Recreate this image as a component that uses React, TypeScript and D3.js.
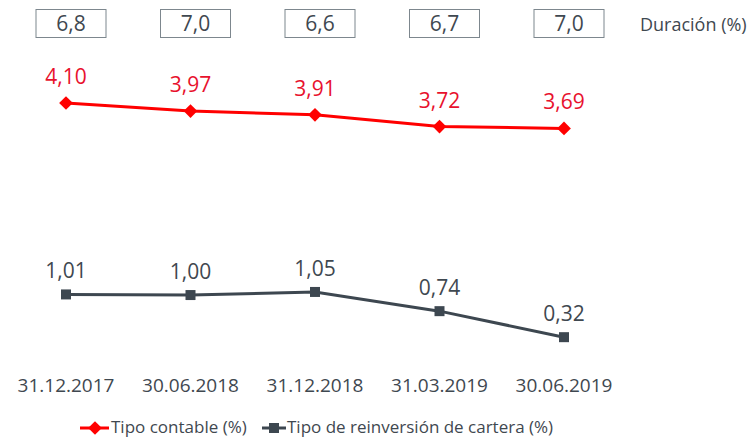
import React from "react";
import * as d3 from "d3";

const categories = ["31.12.2017", "30.06.2018", "31.12.2018", "31.03.2019", "30.06.2019"];
const tipoContable = [4.10, 3.97, 3.91, 3.72, 3.69];
const tipoReinversion = [1.01, 1.00, 1.05, 0.74, 0.32];
const duracion = [6.8, 7.0, 6.6, 6.7, 7.0];
const seriesNames = ["Tipo contable (%)", "Tipo de reinversión de cartera (%)"];
const duracionLabel = "Duración (%)";

const W = 750;
const H = 437;
const RED = "#ff0000";
const RED_TEXT = "#e8112d";
const GRAY = "#3d4750";
const TEXT_GRAY = "#3f4850";
const FONT = "'Open Sans', sans-serif";

const fmt = (v: number, d: number) => v.toFixed(d).replace(".", ",");

export default function App() {
  const x = d3.scalePoint<string>().domain(categories).range([66, 564]);
  const y = d3.scaleLinear().domain([0, 4.1]).range([357, 103]);
  const line = d3
    .line<number>()
    .x((_, i) => x(categories[i]) as number)
    .y((d) => y(d));
  const diamond = d3.symbol().type(d3.symbolDiamond2).size(120)();
  const square = d3.symbol().type(d3.symbolSquare).size(100)();

  return (
    <svg width={W} height={H} style={{ position: "absolute", left: 0, top: 0 }} fontFamily={FONT}>
      <rect width={W} height={H} fill="#fff" />
      {/* Duration boxes */}
      {duracion.map((d, i) => {
        const cx = (x(categories[i]) as number) + 5;
        return (
          <g key={"dur" + i}>
            <rect x={cx - 35} y={9.5} width={70} height={28} fill="#fff" stroke="#7d878e" strokeWidth={1} />
            <text x={cx} y={31} textAnchor="middle" fontSize={21} fill={TEXT_GRAY}>
              {fmt(d, 1)}
            </text>
          </g>
        );
      })}
      <text x={640} y={31} fontSize={18} fill={TEXT_GRAY}>
        {duracionLabel}
      </text>

      {/* Red series */}
      <path d={line(tipoContable) || ""} fill="none" stroke={RED} strokeWidth={3} />
      {tipoContable.map((v, i) => (
        <g key={"r" + i}>
          <path d={diamond} transform={`translate(${x(categories[i])},${y(v)})`} fill={RED} />
          <text x={x(categories[i])} y={y(v) - 19} textAnchor="middle" fontSize={21} fill={RED_TEXT}>
            {fmt(v, 2)}
          </text>
        </g>
      ))}

      {/* Gray series */}
      <path d={line(tipoReinversion) || ""} fill="none" stroke={GRAY} strokeWidth={3} />
      {tipoReinversion.map((v, i) => (
        <g key={"g" + i}>
          <path d={square} transform={`translate(${x(categories[i])},${y(v)})`} fill={GRAY} />
          <text x={x(categories[i])} y={y(v) - 16} textAnchor="middle" fontSize={21} fill={TEXT_GRAY}>
            {fmt(v, 2)}
          </text>
        </g>
      ))}

      {/* X labels */}
      {categories.map((c) => (
        <text key={c} x={x(c)} y={392} textAnchor="middle" fontSize={19} fill={TEXT_GRAY}>
          {c}
        </text>
      ))}

      {/* Legend */}
      <g>
        <line x1={80} x2={109} y1={428} y2={428} stroke={RED} strokeWidth={3} />
        <path d={diamond} transform="translate(95,428)" fill={RED} />
        <text x={111} y={433} fontSize={17} fill={TEXT_GRAY}>
          {seriesNames[0]}
        </text>
        <line x1={262} x2={286} y1={428} y2={428} stroke={GRAY} strokeWidth={3} />
        <path d={square} transform="translate(274,428)" fill={GRAY} />
        <text x={287} y={433} fontSize={17} fill={TEXT_GRAY}>
          {seriesNames[1]}
        </text>
      </g>
    </svg>
  );
}
